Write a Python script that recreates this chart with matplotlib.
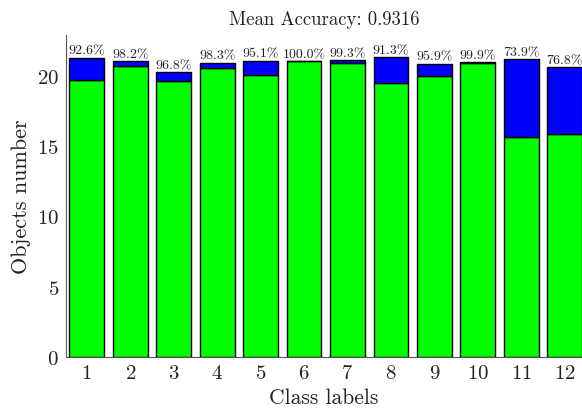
import numpy as np
import matplotlib
matplotlib.use('Agg')
import matplotlib.pyplot as plt

plt.rcParams['font.family'] = 'serif'
plt.rcParams['font.serif'] = ['cmr10']
plt.rcParams['mathtext.fontset'] = 'cm'
plt.rcParams['axes.unicode_minus'] = False
plt.rcParams['axes.formatter.use_mathtext'] = True
plt.rcParams['text.color'] = '#222222'
plt.rcParams['xtick.color'] = '#222222'
plt.rcParams['ytick.color'] = '#222222'
plt.rcParams['axes.labelcolor'] = '#222222'

classes = np.arange(1, 13)
totals = [21.28, 21.05, 20.26, 20.93, 21.07, 21.02, 21.09, 21.32, 20.85, 20.95, 21.16, 20.62]
accuracy = [92.6, 98.2, 96.8, 98.3, 95.1, 100.0, 99.3, 91.3, 95.9, 99.9, 73.9, 76.8]
mean_acc = 0.9316

totals = np.array(totals)
acc = np.array(accuracy) / 100.0
correct = totals * acc
wrong = totals - correct

fig = plt.figure(figsize=(5.82, 4.14), dpi=100)
ax = fig.add_axes([0.1134, 0.1353, 0.8866, 0.7777])

ax.bar(classes, correct, width=0.8, color='#00ff00', edgecolor='black', linewidth=1)
ax.bar(classes, wrong, width=0.8, bottom=correct, color='#0000ff', edgecolor='black', linewidth=1)

for x, t, a in zip(classes, totals, accuracy):
    ax.text(x, t + 0.08, '%.1f%%' % a, ha='center', va='bottom', fontsize=10)

ax.set_xlim(0.52, 12.4)
ax.set_ylim(0, 22.9)
ax.set_xticks(classes)
ax.set_yticks([0, 5, 10, 15, 20])
ax.tick_params(length=0, labelsize=15, pad=5)
ax.spines['top'].set_visible(False)
ax.spines['right'].set_visible(False)
ax.spines['left'].set_color('#555555')
ax.spines['bottom'].set_color('#555555')

ax.set_xlabel('Class labels', fontsize=15.5, labelpad=4)
ax.set_ylabel('Objects number', fontsize=16, labelpad=4)
ax.set_title('Mean Accuracy: %.4f' % mean_acc, fontsize=13.5, pad=8)

fig.savefig('out.png', dpi=100)
